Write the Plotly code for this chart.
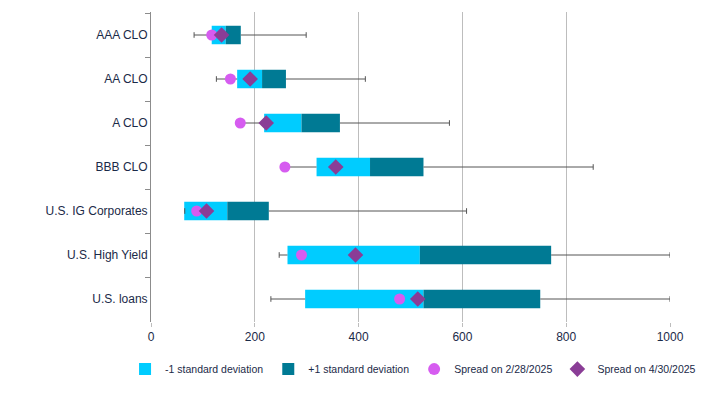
import plotly.graph_objects as go

categories = ["AAA CLO", "AA CLO", "A CLO", "BBB CLO", "U.S. IG Corporates", "U.S. High Yield", "U.S. loans"]
whisker_min = [83, 126, 172, 258, 65, 247, 231]
minus_sd = [117, 166, 218, 319, 64, 263, 297]
mean_val = [144, 214, 290, 422, 147, 518, 525]
plus_sd = [173, 260, 364, 525, 227, 771, 750]
whisker_max = [299, 413, 575, 852, 608, 1000, 1000]
spread_feb = [117, 153, 172, 258, 88, 290, 479]
spread_apr = [136, 191, 222, 356, 107, 394, 514]
x_ticks = [0, 200, 400, 600, 800, 1000]

TEXT = "#1b2a48"
FONT = "Liberation Sans, Arial, sans-serif"

fig = go.Figure()

# whiskers (min -> bar start, bar end -> max)
wx, wy = [], []
for c, lo, s, e, hi in zip(categories, whisker_min, minus_sd, plus_sd, whisker_max):
    wx += [lo, s, None, e, hi, None]
    wy += [c, c, None, c, c, None]
fig.add_trace(go.Scatter(x=wx, y=wy, mode="lines", line=dict(color="#555555", width=1),
                         showlegend=False, hoverinfo="skip"))
capx = [v for pair in zip(whisker_min, whisker_max) for v in pair]
capy = [c for c in categories for _ in range(2)]
fig.add_trace(go.Scatter(x=capx, y=capy, mode="markers",
                         marker=dict(symbol="line-ns", size=4, line=dict(color="#555555", width=1)),
                         showlegend=False, hoverinfo="skip"))

fig.add_trace(go.Bar(y=categories, x=[m - s for m, s in zip(mean_val, minus_sd)], base=minus_sd,
                     orientation="h", marker=dict(color="#00CCFF", line=dict(width=0)),
                     name="-1 standard deviation", width=0.42))
fig.add_trace(go.Bar(y=categories, x=[p - m for p, m in zip(plus_sd, mean_val)], base=mean_val,
                     orientation="h", marker=dict(color="#007A94", line=dict(width=0)),
                     name="+1 standard deviation", width=0.42))
fig.add_trace(go.Scatter(y=categories, x=spread_feb, mode="markers",
                         marker=dict(symbol="circle", size=11, color="#D65CF0"),
                         name="Spread on 2/28/2025"))
fig.add_trace(go.Scatter(y=categories, x=spread_apr, mode="markers",
                         marker=dict(symbol="diamond", size=12, color="#8A3D96"),
                         name="Spread on 4/30/2025"))

# page body has an 8px margin, so the figure is sized to fit 720x393 window
fig.update_layout(
    width=712, height=385,
    margin=dict(l=143, r=50, t=4, b=71, autoexpand=False),
    paper_bgcolor="white", plot_bgcolor="white",
    barmode="overlay",
    font=dict(family=FONT, size=12, color=TEXT),
    showlegend=True,
    legend=dict(orientation="h", x=-0.05, xanchor="left", y=-0.152, yanchor="middle",
                font=dict(size=10.5, color=TEXT), itemwidth=30, tracegroupgap=0,
                traceorder="normal", itemsizing="constant"),
)
fig.update_xaxes(range=[0, 1000], tickvals=x_ticks, showgrid=True, gridcolor="#BDBDBD",
                 gridwidth=1, zeroline=False, showline=False, ticks="outside", ticklen=4,
                 tickcolor="#BDBDBD", tickfont=dict(size=12, color=TEXT))
fig.update_yaxes(autorange="reversed", showline=True, linecolor="#8C8C8C", linewidth=1,
                 ticks="outside", ticklen=5, tickcolor="#8C8C8C", tickson="boundaries",
                 showgrid=False, tickfont=dict(size=12, color=TEXT))

fig.write_html("out.html")
